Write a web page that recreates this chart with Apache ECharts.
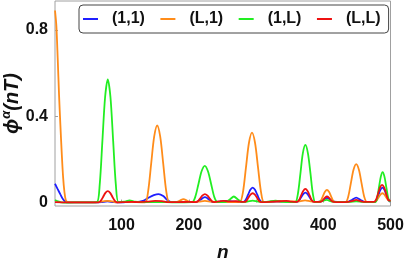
<!DOCTYPE html>
<html>
<head>
<meta charset="utf-8">
<script src="https://cdn.jsdelivr.net/npm/echarts@6/dist/echarts.min.js"></script>
<style>html,body{margin:0;padding:0;background:#fff}#c{width:407px;height:261px}</style>
</head>
<body>
<div id="c"></div>
<script>
// Legend labels
const seriesNames = ['(1,1)', '(L,1)', '(1,L)', '(L,L)'];
// Tick labels
const xTicks = [100, 200, 300, 400, 500];
const yTicks = [0, 0.4, 0.8];

// (1,1) : [n, value]
const s11 = [[1,0.087],[5,0.062],[9,0.038],[13,0.015],[17,0.003],[21,0.001],[40,0.001],[60,0.001],[70,0.002],[79,0.005],[88,0.002],[100,0.001],[112,0.004],[120,0.003],
[127,0.004],[133,0.009],[140,0.022],[148,0.034],[155,0.039],[162,0.03],[168,0.012],[174,0.002],[185,0.002],[195,0.003],
[211,0.002],[214,0.007],[217.5,0.0125],[220.8,0.021],[224,0.025],[227.3,0.021],[230.5,0.0125],[233.8,0.004],[237,0.002],
[248,0.005],[256,0.008],[264,0.005],[272,0.004],
[281,0.003],[284.5,0.012],[288,0.035],[291.5,0.059],[295,0.069],[298.5,0.059],[302,0.035],[305.5,0.012],[309,0.003],
[318,0.003],[330,0.004],[345,0.005],[352,0.003],
[360.4,0.003],[363.6,0.008],[366.9,0.023],[370.2,0.039],[373.4,0.046],[376.6,0.039],[379.9,0.023],[383.2,0.008],[386.4,0.003],
[395,0.004],[400,0.012],[405.5,0.022],[411,0.012],[416,0.004],[428,0.003],
[436,0.003],[442.5,0.012],[449,0.023],[455.5,0.012],[462,0.003],[470,0.003],
[476,0.003],[479,0.011],[482,0.035],[485,0.059],[488,0.069],[491,0.059],[494,0.035],[497,0.011],[500,0.004]];

// (L,1)
const sL1 = [[1,0.89],[3,0.82],[5,0.67],[7,0.5],[9,0.36],[11,0.23],[13,0.12],[15,0.05],[17,0.012],[20,0.002],
[30,0.001],[50,0.001],[65,0.002],[72,0.005],[79,0.008],[86,0.005],[94,0.001],[110,0.002],[122,0.002],
[135,0.001],[139.5,0.052],[144,0.179],[148.5,0.305],[153,0.357],[157.5,0.305],[162,0.179],[166.5,0.052],[171,0.002],
[180,0.002],[186,0.008],[192,0.016],[198,0.008],[204,0.002],[215,0.004],[224,0.008],[233,0.004],[245,0.002],[260,0.002],[272,0.002],
[276,0.002],[280.5,0.047],[285,0.162],[289.5,0.277],[294,0.324],[298.5,0.277],[303,0.162],[307.5,0.047],[312,0.002],
[325,0.004],[340,0.006],[355,0.005],[365,0.006],[373,0.01],[381,0.005],[392,0.002],
[393.5,0.002],[396.5,0.009],[399.5,0.03],[402.5,0.05],[405.5,0.059],[408.5,0.05],[411.5,0.03],[414.5,0.009],[417.5,0.002],[425,0.002],
[433,0.002],[437,0.026],[441,0.089],[445,0.152],[449,0.178],[453,0.152],[457,0.089],[461,0.026],[465,0.002],[472,0.003],
[476,0.003],[479,0.008],[482,0.022],[485,0.037],[488,0.043],[491,0.037],[494,0.022],[497,0.01],[500,0.006]];

// (1,L)
const s1L = [[1,0.012],[5,0.006],[10,0.001],[20,0.0],[40,0.001],[55,0.001],
[63.5,0.002],[67.5,0.083],[71.5,0.286],[75.5,0.488],[79.5,0.571],[83.5,0.488],[87.5,0.286],[91.5,0.083],[95.5,0.002],
[104,0.004],[112,0.01],[120,0.004],[130,0.002],[140,0.002],[160,0.002],[175,0.001],
[204.8,0.002],[209.5,0.025],[214.3,0.085],[219,0.145],[223.8,0.17],[228.5,0.145],[233.3,0.085],[238,0.025],[242.8,0.002],
[255,0.003],[261,0.014],[267,0.028],[273,0.014],[279,0.003],[287,0.004],[295,0.009],[303,0.004],[315,0.003],[329,0.009],[340,0.003],[352,0.002],
[358.4,0.002],[362.2,0.039],[366,0.134],[369.6,0.228],[373.4,0.267],[377.2,0.228],[381,0.134],[384.6,0.039],[388.4,0.002],
[397,0.005],[405,0.012],[413,0.004],[425,0.002],[440,0.003],[449,0.005],[458,0.003],[470,0.002],
[477.3,0.002],[480.1,0.021],[482.8,0.07],[485.6,0.12],[488.3,0.141],[491,0.12],[493.8,0.07],[496.6,0.021],[499.3,0.003],[500,0.002]];

// (L,L)
const sLL = [[1,0.002],[20,0.001],[40,0.001],[60,0.001],
[65.5,0.001],[69,0.008],[72.5,0.026],[76,0.045],[79.5,0.053],[83,0.045],[86.5,0.026],[90,0.008],[93.5,0.001],
[105,0.002],[115,0.003],[125,0.002],[138,0.004],[150,0.008],[160,0.007],[170,0.002],[185,0.002],[200,0.003],
[210,0.002],[213.5,0.006],[217,0.02],[220.5,0.033],[224,0.039],[227.5,0.033],[231,0.02],[234.5,0.006],[238,0.002],
[245,0.005],[252,0.008],[260,0.005],[270,0.006],[276,0.004],
[282,0.003],[285.3,0.006],[288.5,0.022],[291.8,0.037],[295,0.043],[298.3,0.037],[301.5,0.022],[304.8,0.006],[308,0.002],
[320,0.003],[335,0.006],[345,0.008],[353,0.004],
[360.4,0.003],[363.6,0.009],[366.9,0.032],[370.2,0.054],[373.4,0.063],[376.6,0.054],[379.9,0.032],[383.2,0.009],[386.4,0.003],
[395.5,0.003],[398,0.006],[400.5,0.014],[403,0.024],[405.5,0.028],[408,0.024],[410.5,0.014],[413,0.006],[415.5,0.003],
[425,0.002],[437,0.003],[443,0.007],[449,0.012],[455,0.007],[462,0.003],[470,0.003],
[475.5,0.003],[478.5,0.013],[481.5,0.041],[484.5,0.07],[487.5,0.082],[490.5,0.07],[493.5,0.041],[496.5,0.013],[500,0.008]];

const seriesData = [s11, sL1, s1L, sLL];
const colors = ['#1f1fff', '#ff8c1a', '#22ee22', '#ee1111'];

const chart = echarts.init(document.getElementById('c'), null, {renderer: 'canvas'});
const FONT = 'Liberation Sans, Arial, sans-serif';
chart.setOption({
  animation: false,
  backgroundColor: '#fff',
  color: colors,
  grid: {left: 55, top: 1, right: 16.5, bottom: 55, show: true, borderColor: '#a0a0a0', borderWidth: 1, backgroundColor: 'transparent', containLabel: false, outerBoundsMode: 'none'},
  legend: {
    left: 79, top: 5,
    padding: [6, 8, 6, 4],
    borderColor: '#444', borderWidth: 1, borderRadius: 4, backgroundColor: '#fff',
    itemWidth: 15, itemHeight: 2, itemGap: 15.5,
    icon: 'rect',
    textStyle: {fontFamily: FONT, fontWeight: 'bold', fontSize: 16, color: '#111', padding: [0, 0, 0, 9]},
    data: seriesNames
  },
  xAxis: {
    type: 'value', min: 1, max: 500,
    name: 'n', nameLocation: 'middle', nameGap: 37, nameMoveOverlap: false,
    nameTextStyle: {fontFamily: FONT, fontWeight: 'bold', fontStyle: 'italic', fontSize: 19, color: '#111'},
    axisLine: {show: false},
    splitLine: {show: false},
    axisTick: {show: true, inside: true, length: 3, lineStyle: {color: '#a0a0a0'}, customValues: xTicks},
    axisLabel: {fontFamily: FONT, fontWeight: 'bold', fontSize: 16, color: '#111', margin: 12, customValues: xTicks}
  },
  yAxis: {
    type: 'value', min: -0.016, max: 0.934,
    name: '{p|ϕ}{s|α}{p|(nT)}', nameLocation: 'middle', nameGap: 33, nameRotate: 90, nameMoveOverlap: false,
    nameTextStyle: {
      rich: {
        p: {fontFamily: FONT, fontWeight: 'bold', fontStyle: 'italic', fontSize: 20, color: '#111', lineHeight: 22, verticalAlign: 'bottom'},
        s: {fontFamily: FONT, fontWeight: 'bold', fontStyle: 'italic', fontSize: 13, color: '#111', verticalAlign: 'top', lineHeight: 22}
      }
    },
    axisLine: {show: false},
    splitLine: {show: false},
    axisTick: {show: true, inside: true, length: 3, lineStyle: {color: '#a0a0a0'}, customValues: yTicks},
    axisLabel: {fontFamily: FONT, fontWeight: 'bold', fontSize: 16, color: '#111', margin: 7, customValues: yTicks}
  },
  series: seriesData.map((d, i) => ({
    name: seriesNames[i], type: 'line', data: d, smooth: 0.3, symbol: 'none',
    lineStyle: {width: 1.8, color: colors[i]}, clip: true
  }))
});
</script>
</body>
</html>
